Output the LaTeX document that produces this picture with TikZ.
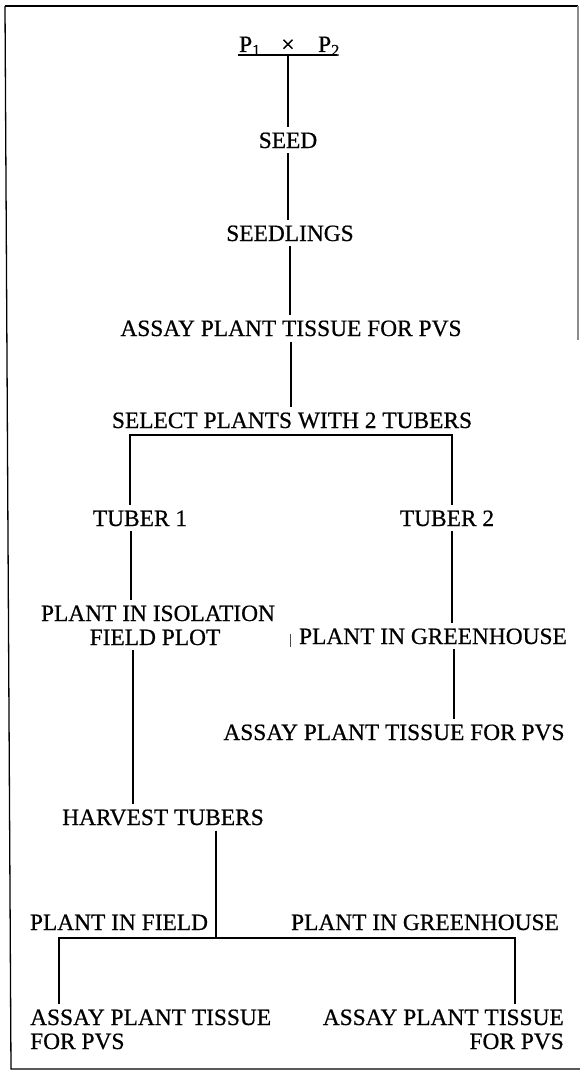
\documentclass[tikz,border=0pt]{standalone}
\usepackage{fontspec}
\setmainfont{Liberation Serif}[FakeBold=0.6]
\begin{document}
\begin{tikzpicture}[x=1pt,y=-1pt,
  lab/.style={inner xsep=0pt, inner ysep=5pt, anchor=base, font=\fontsize{23.4}{28}\selectfont},
  conn/.style={line width=1.6pt, line cap=butt},
  framel/.style={line width=1.3pt}]
\useasboundingbox (0,0) rectangle (580,1073);
\fill[white] (0,0) rectangle (580,1073);
% frame
\draw[framel] (5,6) -- (578,6);
\draw[framel] (5,6) -- (11,1069) -- (580,1069);
\draw[framel, black!45] (578,6) -- (578,340);
% cross
\node[lab] (p1) at (250,52) {P\textsubscript{1}};
\node[lab] (cx) at (288,52) {×};
\node[lab] (p2) at (329,52) {P\textsubscript{2}};
\coordinate (ul) at (238,55);
\coordinate (ur) at (337,55);
\coordinate (uc) at (288,55);
% main chain
\node[lab] (seed) at (288,148) {SEED};
\node[lab] (seedl) at (290,241) {SEEDLINGS};
\node[lab] (assay1) at (291,336) {ASSAY PLANT TISSUE FOR PVS};
\node[lab] (select) at (292,428) {SELECT PLANTS WITH 2 TUBERS};
\node[lab] (tub1) at (140,526) {TUBER 1};
\node[lab] (tub2) at (447,526) {TUBER 2};
\node[lab] (iso1) at (158,621) {PLANT IN ISOLATION};
\node[lab] (iso2) at (155,645) {FIELD PLOT};
\node[lab] (gh) at (433,644) {PLANT IN GREENHOUSE};
\node[lab] (assay2) at (394,740) {ASSAY PLANT TISSUE FOR PVS};
\node[lab] (harv) at (163,825) {HARVEST TUBERS};
\node[lab] (field) at (119,930) {PLANT IN FIELD};
\node[lab] (gh2) at (425,930) {PLANT IN GREENHOUSE};
\node[lab, anchor=base west] (al1) at (30,1025) {ASSAY PLANT TISSUE};
\node[lab, anchor=base west] (al2) at (30,1049) {FOR PVS};
\node[lab, anchor=base east] (ar1) at (564,1025) {ASSAY PLANT TISSUE};
\node[lab, anchor=base east] (ar2) at (564,1049) {FOR PVS};
% x positions of connectors
\coordinate (hl) at (130,435);
\coordinate (hr) at (452,435);
\coordinate (c1) at (131,0);
\coordinate (c2) at (133,0);
\coordinate (c3) at (454,0);
\coordinate (hv) at (216,938);
\coordinate (bl) at (59,938);
\coordinate (br) at (515,938);
% connectors
\draw[conn] (ul) -- (ur);
\draw[conn] (uc) -- (seed.north -| uc);
\draw[conn] (seed.south) -- (seedl.north -| seed.south);
\draw[conn] (seedl.south) -- (assay1.north -| seedl.south);
\draw[conn] (assay1.south) -- (select.north -| assay1.south);
\draw[conn] (tub1.north -| hl) -- (hl) -- (hr) -- (tub2.north -| hr);
\draw[conn] (tub1.south -| c1) -- (iso1.north -| c1);
\draw[conn] (iso2.south -| c2) -- (harv.north -| c2);
\draw[conn] (tub2.south -| hr) -- (gh.north -| hr);
\draw[conn] (gh.south -| c3) -- (assay2.north -| c3);
\draw[conn] (harv.south -| hv) -- (hv);
\draw[conn] (al1.north -| bl) -- (bl) -- (br) -- (ar1.north -| br);
% small tick before greenhouse label
\draw[line width=1pt, black!70] (290,634) -- (290,647);
\end{tikzpicture}
\end{document}
